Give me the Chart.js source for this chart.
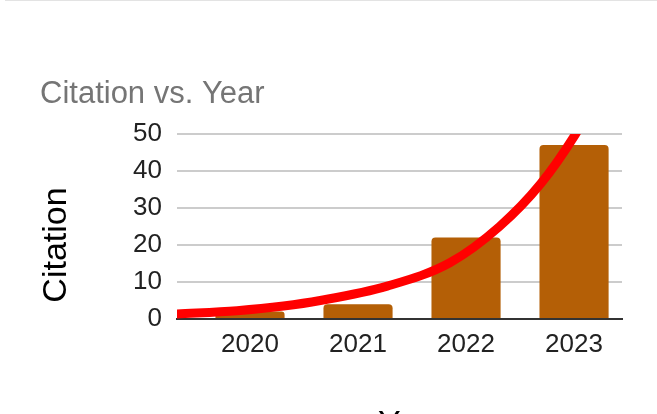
<!DOCTYPE html>
<html>
<head>
<meta charset="utf-8">
<script src="https://cdn.jsdelivr.net/npm/chart.js@4"></script>
<style>
  body { margin: 0; background: #fff; overflow: hidden; position: relative; }
  .topline { position: absolute; left: 5px; right: 0; top: 0; height: 1px; background: #e3e3e3; }
  canvas { display: block; }
</style>
</head>
<body>
<div class="topline"></div>
<canvas id="chart" width="657" height="414"></canvas>
<script>
const years = [2020, 2021, 2022, 2023];
const citations = [2, 4, 22, 47];
const yTicks = [0, 10, 20, 30, 40, 50];
// trendline
const trendYears = [2019.32, 2019.88, 2020.31, 2020.65, 2021.27, 2021.85, 2022.31, 2022.69, 2023.01, 2023.15];
const trendValues = [1.35, 2.25, 3.5, 5.0, 8.9, 15.2, 25.0, 36.5, 49.8, 57];

const FONT = '"Liberation Sans", Arial, sans-serif';

const sheetText = {
  id: 'sheetText',
  afterDraw(chart) {
    const ctx = chart.ctx;
    ctx.save();
    ctx.textBaseline = 'alphabetic';
    ctx.font = '31px ' + FONT;
    ctx.fillStyle = '#757575';
    ctx.textAlign = 'left';
    ctx.fillText('Citation vs. Year', 40, 103);

    ctx.fillStyle = '#000';
    ctx.font = '34px ' + FONT;
    ctx.fillText('Year', 378, 434);

    ctx.translate(66, 245);
    ctx.rotate(-Math.PI / 2);
    ctx.textAlign = 'center';
    ctx.fillText('Citation', 0, 0);
    ctx.restore();
  }
};

new Chart(document.getElementById('chart'), {
  type: 'bar',
  data: {
    datasets: [
      {
        type: 'line',
        data: trendYears.map((x, i) => ({ x: x, y: trendValues[i] })),
        borderColor: '#ff0000',
        borderWidth: 9,
        pointRadius: 0,
        cubicInterpolationMode: 'monotone',
        clip: 0,
        order: 0
      },
      {
        type: 'bar',
        data: years.map((x, i) => ({ x: x, y: citations[i] })),
        backgroundColor: '#b45f06',
        borderRadius: 4,
        barPercentage: 0.8,
        categoryPercentage: 0.8,
        order: 1
      }
    ]
  },
  options: {
    responsive: false,
    animation: false,
    layout: { padding: { top: 134, right: 35, bottom: 0, left: 0 } },
    plugins: { legend: { display: false }, tooltip: { enabled: false } },
    scales: {
      x: {
        type: 'linear',
        offset: false,
        min: 2019.324,
        max: 2023.444,
        afterBuildTicks: s => { s.ticks = years.map(v => ({ value: v })); },
        afterFit: s => { s.height = 95; },
        grid: { display: false, drawTicks: false, offset: false },
        border: { display: true, color: '#333333', width: 2 },
        ticks: {
          padding: 10,
          color: '#222',
          font: { family: FONT, size: 26 },
          callback: v => String(v)
        }
      },
      y: {
        min: 0,
        max: 50,
        afterBuildTicks: s => { s.ticks = yTicks.map(v => ({ value: v })); },
        afterFit: s => { s.width = 177; },
        grid: { color: '#cccccc', lineWidth: 2, drawTicks: false },
        border: { display: false },
        ticks: {
          padding: 15,
          color: '#222',
          font: { family: FONT, size: 26 }
        }
      }
    }
  },
  plugins: [sheetText]
});
</script>
</body>
</html>
